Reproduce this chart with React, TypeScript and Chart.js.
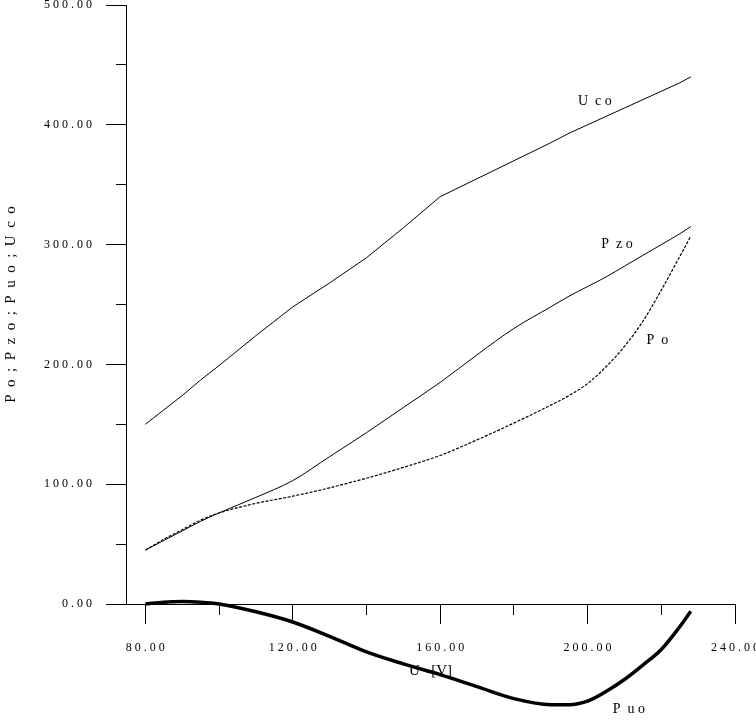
import { useEffect, useRef } from 'react';
import { Chart, registerables } from 'chart.js';

Chart.register(...registerables);

// ---- data ----
const voltage = [80, 85, 90, 95, 100, 110, 120, 130, 140, 150, 160, 170, 180, 190, 195, 200, 205, 210, 215, 220, 225, 228];
const uco = [150, 162, 174, 187, 199, 224, 248, 268, 289, 314, 340, 355, 370, 385, 393, 400, 407, 414, 421, 428, 435, 440];
const pzo = [45, 53, 61, 69, 76, 89, 103, 123, 143, 164, 185, 208, 230, 248, 257, 265, 273, 282, 291, 300, 309, 315];
const po = [45, 54, 62, 70, 76, 84, 90, 97, 105, 114, 124, 137, 151, 166, 174, 184, 198, 215, 236, 262, 290, 307];
const puo = [0, 1.5, 2, 1.5, 0, -6.5, -15, -27, -40, -50, -59, -69, -79, -84, -84, -81, -73, -63, -51, -38, -19, -6];

const xTickValues = [80, 100, 120, 140, 160, 180, 200, 220, 240];
const xLabeledTicks = [80, 120, 160, 200, 240];
const yTickValues = [0, 50, 100, 150, 200, 250, 300, 350, 400, 450, 500];
const yLabeledTicks = [0, 100, 200, 300, 400, 500];

const xTitle = 'U   [V]';
const yTitle = 'P  o  ;  P  z  o  ;  P  u  o  ;  U  c  o';

const curveLabelTexts = ['U  c o', 'P  z o', 'P  o', 'P  u o'];
const curveLabelX = [197.4, 203.7, 216.0, 206.8];
const curveLabelY = [420, 300, 220, -88];

const spaced = (s: string) => s.split('').join(' ');

const FONT = "'Liberation Serif', 'Times New Roman', serif";

export default function App() {
  const ref = useRef<HTMLCanvasElement | null>(null);

  useEffect(() => {
    if (!ref.current) return;
    const pts = (ys: number[]) => voltage.map((x, i) => ({ x, y: ys[i] }));

    const labelPlugin = {
      id: 'curveLabels',
      afterDatasetsDraw(chart: any) {
        const { ctx, scales } = chart;
        ctx.save();
        ctx.fillStyle = '#000';
        ctx.font = `14px ${FONT}`;
        ctx.textAlign = 'left';
        ctx.textBaseline = 'middle';
        curveLabelTexts.forEach((t, i) => {
          const px = scales.x.getPixelForValue(curveLabelX[i]);
          const py = scales.y.getPixelForValue(curveLabelY[i]);
          ctx.fillText(t, px, py);
        });
        ctx.restore();
      },
    };

    const minorDashY = (c: any) => (c.tick && c.tick.value % 100 !== 0 ? [0, 10, 10, 0] : []);
    const minorDashX = (c: any) => (c.tick && (c.tick.value - 80) % 40 !== 0 ? [10, 10] : []);

    const chart = new Chart(ref.current, {
      type: 'line',
      data: {
        datasets: [
          { label: 'Uco', data: pts(uco), borderColor: '#000', borderWidth: 1, pointRadius: 0, tension: 0, clip: false as any },
          { label: 'Pzo', data: pts(pzo), borderColor: '#000', borderWidth: 1, pointRadius: 0, cubicInterpolationMode: 'monotone', clip: false as any },
          { label: 'Po', data: pts(po), borderColor: '#000', borderWidth: 1.2, borderDash: [3, 1.5], pointRadius: 0, cubicInterpolationMode: 'monotone', clip: false as any },
          { label: 'Puo', data: pts(puo), borderColor: '#000', borderWidth: 3.5, pointRadius: 0, cubicInterpolationMode: 'monotone', clip: false as any },
        ],
      },
      options: {
        responsive: false,
        maintainAspectRatio: false,
        animation: false,
        events: [],
        layout: { padding: { left: 0, top: 5, right: 21, bottom: 0 } },
        plugins: { legend: { display: false }, tooltip: { enabled: false } },
        scales: {
          x: {
            type: 'linear',
            position: 'bottom',
            min: 74.75,
            max: 240,
            afterBuildTicks: (s: any) => { s.ticks = xTickValues.map((v) => ({ value: v })); },
            afterFit: (s: any) => { s.height = 120; s.paddingLeft = 0; s.paddingRight = 0; },
            grid: {
              drawOnChartArea: false,
              tickLength: 20,
              tickColor: '#000',
              tickWidth: 1,
              tickBorderDash: minorDashX as any,
            },
            border: { color: '#000', width: 1 },
            ticks: {
              autoSkip: false,
              maxRotation: 0,
              padding: 17,
              color: '#000',
              font: { family: FONT, size: 12 },
              callback: (v: any) => (xLabeledTicks.includes(Number(v)) ? spaced(Number(v).toFixed(2)) : ''),
            },
            title: {
              display: true,
              text: xTitle,
              color: '#000',
              font: { family: FONT, size: 15 },
              padding: { top: 0, bottom: 44 },
            },
          },
          y: {
            type: 'linear',
            position: 'left',
            min: 0,
            max: 500,
            afterBuildTicks: (s: any) => { s.ticks = yTickValues.map((v) => ({ value: v })); },
            afterFit: (s: any) => { s.width = 126; s.paddingTop = 0; s.paddingBottom = 0; },
            grid: {
              drawOnChartArea: false,
              tickLength: 20,
              tickColor: '#000',
              tickWidth: 1,
              tickBorderDash: minorDashY as any,
            },
            border: { color: '#000', width: 1 },
            ticks: {
              autoSkip: false,
              padding: 14,
              color: '#000',
              font: { family: FONT, size: 12 },
              callback: (v: any) => (yLabeledTicks.includes(Number(v)) ? spaced(Number(v).toFixed(2)) : ''),
            },
            title: {
              display: true,
              text: yTitle,
              color: '#000',
              font: { family: FONT, size: 15 },
              padding: { top: 2, bottom: 0 },
            },
          },
        },
      },
      plugins: [labelPlugin],
    });
    return () => chart.destroy();
  }, []);

  return (
    <canvas
      ref={ref}
      width={756}
      height={724}
      style={{ position: 'fixed', left: 0, top: 0, width: 756, height: 724, display: 'block', background: '#fff' }}
    />
  );
}
